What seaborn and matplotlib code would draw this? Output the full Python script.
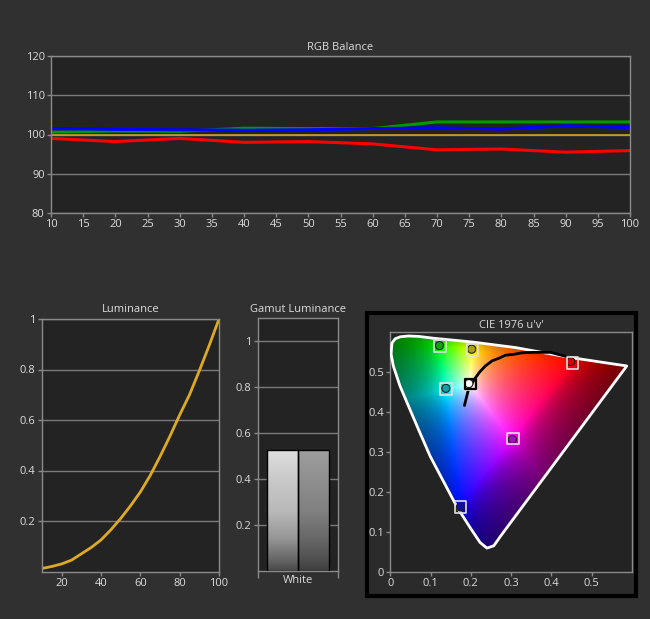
import numpy as np
import pandas as pd
import seaborn as sns
import matplotlib.pyplot as plt
from matplotlib.patches import Polygon, Rectangle
from matplotlib.colors import LinearSegmentedColormap

# ---- data ----
levels = [10, 20, 30, 40, 50, 60, 70, 80, 90, 100]
red_bal = [99.0, 98.2, 99.0, 98.0, 98.2, 97.6, 96.1, 96.3, 95.5, 95.9]
green_bal = [100.6, 100.9, 100.8, 101.6, 101.5, 101.5, 103.2, 103.2, 103.2, 103.2]
blue_bal = [101.5, 101.3, 101.2, 101.1, 101.2, 101.5, 101.7, 101.4, 102.2, 101.8]
target_bal = [100, 100, 100, 100, 100, 100, 100, 100, 100, 100]

lum_x = [10, 15, 20, 25, 30, 35, 40, 45, 50, 55, 60, 65, 70, 75, 80, 85, 90, 95, 100]
lum_y = [0.012, 0.02, 0.03, 0.045, 0.07, 0.095, 0.125, 0.165, 0.21, 0.26, 0.315,
         0.38, 0.455, 0.535, 0.62, 0.70, 0.795, 0.895, 1.0]

gamut_patch = ['White', 'White']
gamut_series = ['Target', 'Measured']
gamut_lum = [0.525, 0.525]

locus_u = [0.240, 0.223, 0.199, 0.165, 0.132, 0.099, 0.070, 0.045, 0.024, 0.0075,
           0.002, 0.004, 0.012, 0.025, 0.045, 0.070, 0.111, 0.203, 0.311, 0.448,
           0.587, 0.273, 0.257]
locus_v = [0.059, 0.073, 0.109, 0.163, 0.226, 0.289, 0.356, 0.415, 0.465, 0.515,
           0.545, 0.572, 0.583, 0.588, 0.590, 0.589, 0.584, 0.575, 0.561, 0.536,
           0.515, 0.088, 0.065]

planck_u = [0.184, 0.194, 0.209, 0.222, 0.236, 0.253, 0.269, 0.286, 0.306, 0.327,
            0.356, 0.398, 0.443]
planck_v = [0.416, 0.456, 0.482, 0.500, 0.515, 0.528, 0.534, 0.542, 0.544, 0.548,
            0.549, 0.549, 0.537]

points = ['Red', 'Green', 'Blue', 'Cyan', 'Magenta', 'Yellow', 'White']
target_u = [0.452, 0.124, 0.174, 0.139, 0.305, 0.204, 0.199]
target_v = [0.523, 0.565, 0.162, 0.457, 0.333, 0.555, 0.469]
meas_u = [0.448, 0.122, 0.174, 0.138, 0.303, 0.202, 0.195]
meas_v = [0.526, 0.566, 0.162, 0.459, 0.331, 0.557, 0.471]
point_colors = {'Red': '#d0000c', 'Green': '#12a012', 'Blue': '#10109a', 'Cyan': '#10a0a8',
                'Magenta': '#a010b8', 'Yellow': '#aaa212', 'White': '#ffffff'}

# ---- style ----
sns.set_theme(style='ticks')
plt.rcParams['font.family'] = ['Open Sans', 'DejaVu Sans']
BG = '#303030'
FACE = '#232323'
SPINE = '#8a8a8a'
TXT = '#dcdcdc'
GRID = '#7a7a7a'

W, H = 650, 619
fig = plt.figure(figsize=(6.5, 6.19), dpi=100, facecolor=BG)


def px_axes(l, t, r, b):
    return fig.add_axes([l / W, 1 - b / H, (r - l) / W, (b - t) / H])


def style(ax):
    ax.set_facecolor(FACE)
    for s in ax.spines.values():
        s.set_visible(True)
        s.set_color(SPINE)
        s.set_linewidth(1)
    ax.tick_params(colors=SPINE, labelcolor=TXT, labelsize=8, length=3, width=1,
                   direction='out', pad=1.5)
    ax.set_xlabel('')
    ax.set_ylabel('')


def title(x, y, s):
    fig.text(x / W, 1 - y / H, s, color=TXT, fontsize=8, ha='center', va='center')


# ---- RGB Balance ----
ax1 = px_axes(51, 56, 630, 213)
ax1.yaxis.grid(True, color=GRID, lw=1)
ax1.set_axisbelow(True)
for vals, col, lw in [(target_bal, '#c8a028', 1.2), (red_bal, '#ff0000', 2.2),
                      (green_bal, '#009a00', 2.2), (blue_bal, '#0000ff', 2.2)]:
    sns.lineplot(x=levels, y=vals, color=col, lw=lw, ax=ax1)
ax1.set_xlim(10, 100)
ax1.set_ylim(80, 120)
ax1.set_xticks(range(10, 101, 5))
ax1.set_yticks([80, 90, 100, 110, 120])
style(ax1)
title(340.5, 47, 'RGB Balance')

# ---- Luminance ----
ax2 = px_axes(42, 319, 219, 571.5)
ax2.yaxis.grid(True, color=GRID, lw=1)
ax2.set_axisbelow(True)
sns.lineplot(x=lum_x, y=lum_y, color='#deaa22', lw=2, ax=ax2)
ax2.set_xlim(10, 100)
ax2.set_ylim(0, 1)
ax2.set_xticks([20, 40, 60, 80, 100])
ax2.set_yticks([0.2, 0.4, 0.6, 0.8, 1.0])
ax2.set_yticklabels(['0.2', '0.4', '0.6', '0.8', '1'])
style(ax2)
title(130.5, 310, 'Luminance')

# ---- Gamut Luminance ----
ax3 = px_axes(258, 318, 338, 571)
ax3.yaxis.grid(True, color=GRID, lw=1)
ax3.set_axisbelow(True)
gdf = pd.DataFrame({'patch': gamut_patch, 'series': gamut_series, 'lum': gamut_lum})
sns.barplot(data=gdf, x='patch', y='lum', hue='series', width=0.78, dodge=True,
            palette=['#c0c0c0', '#808080'], edgecolor='black', linewidth=1,
            legend=False, ax=ax3)
cmaps = [LinearSegmentedColormap.from_list('g1', [(0, '#484848'), (0.07, '#606060'),
                                                  (0.27, '#969696'), (0.49, '#b8b8b8'),
                                                  (0.77, '#cacaca'), (1, '#dedede')]),
         LinearSegmentedColormap.from_list('g2', [(0, '#3c3c3c'), (0.07, '#4c4c4c'),
                                                  (0.27, '#686868'), (0.49, '#808080'),
                                                  (0.77, '#909090'), (1, '#9e9e9e')])]
grad = np.linspace(0, 1, 256).reshape(-1, 1)
for bar, cm in zip(ax3.patches, cmaps):
    x0, y0 = bar.get_x(), bar.get_y()
    im = ax3.imshow(grad, cmap=cm, origin='lower', aspect='auto',
                    extent=[x0, x0 + bar.get_width(), y0, y0 + bar.get_height()], zorder=2)
    im.set_clip_path(bar)
    bar.set_facecolor('none')
    bar.set_zorder(3)
ax3.set_xlim(-0.5, 0.5)
ax3.set_ylim(0, 1.1)
ax3.set_yticks([0.2, 0.4, 0.6, 0.8, 1.0])
ax3.set_yticklabels(['0.2', '0.4', '0.6', '0.8', '1'])
ax3.set_xticks([-0.5, 0.5])
ax3.set_xticklabels(['', ''])
ax3.set_xticks([0], minor=True)
ax3.set_xticklabels(['White'], minor=True)
style(ax3)
ax3.tick_params(axis='x', which='major', length=5)
ax3.tick_params(axis='x', which='minor', length=0, labelsize=8, labelcolor=TXT, pad=3)
title(298, 310, 'Gamut Luminance')

# ---- CIE 1976 u'v' ----
fig.add_artist(Rectangle((367 / W, 1 - 596 / H), 269 / W, 283 / H, transform=fig.transFigure,
                         facecolor='#2b2b2b', edgecolor='black', lw=3, zorder=-1))
ax4 = px_axes(390.3, 332, 632, 571.7)

# chromaticity background colour (u'v' -> XYZ -> linear sRGB)
n = 500
uu, vv = np.meshgrid(np.linspace(0.0, 0.6, n), np.linspace(0.005, 0.6, n))
den = 6 * uu - 16 * vv + 12
cx, cy = 9 * uu / den, 4 * vv / den
xyz = np.stack([cx / cy, np.ones_like(cx), (1 - cx - cy) / cy], axis=-1)
M = np.array([[3.2406, -1.5372, -0.4986], [-0.9689, 1.8758, 0.0415], [0.0557, -0.2040, 1.0570]])
rgb = np.clip(xyz @ M.T, 0, None)
rgb = rgb / rgb.max(axis=-1, keepdims=True)
# darken outside the display triangle
Tm = np.array([[target_u[0] - target_u[2], target_u[1] - target_u[2]],
               [target_v[0] - target_v[2], target_v[1] - target_v[2]]])
Ti = np.linalg.inv(Tm)
du, dv = uu - target_u[2], vv - target_v[2]
l1 = Ti[0, 0] * du + Ti[0, 1] * dv
l2 = Ti[1, 0] * du + Ti[1, 1] * dv
l3 = 1 - l1 - l2
outside = sum(np.clip(-l, 0, None) for l in (l1, l2, l3))
rgb = rgb / (1 + 4.5 * outside)[..., None]
rgb = np.clip(rgb, 0, 1) ** (1 / 1.3)

poly = Polygon(np.column_stack([locus_u, locus_v]), closed=True, facecolor='none',
               edgecolor='white', lw=2, zorder=3, joinstyle='round')
ax4.add_patch(poly)
img = ax4.imshow(rgb, origin='lower', extent=[0, 0.6, 0.005, 0.6], aspect='auto',
                 interpolation='bilinear', zorder=1)
img.set_clip_path(poly)
sns.lineplot(x=planck_u, y=planck_v, color='black', lw=2, sort=False, ax=ax4, zorder=4)
tdf = pd.DataFrame({'u': target_u, 'v': target_v, 'name': points})
mdf = pd.DataFrame({'u': meas_u, 'v': meas_v, 'name': points})
sns.scatterplot(data=mdf, x='u', y='v', hue='name', palette=point_colors, s=34,
                edgecolor='#202020', linewidth=0.8, legend=False, ax=ax4, zorder=5)
sns.scatterplot(data=tdf, x='u', y='v', marker='s', s=70, facecolor='none',
                edgecolor='#e0e0e0', linewidth=1.2, legend=False, ax=ax4, zorder=6)
ax4.scatter([target_u[-1]], [target_v[-1]], marker='s', s=55, facecolor='none',
            edgecolor='black', linewidth=1.6, zorder=7)
ax4.set_xlim(0, 0.6)
ax4.set_ylim(0, 0.6)
ax4.set_xticks([0, 0.1, 0.2, 0.3, 0.4, 0.5])
ax4.set_xticklabels(['0', '0.1', '0.2', '0.3', '0.4', '0.5'])
ax4.set_yticks([0, 0.1, 0.2, 0.3, 0.4, 0.5])
ax4.set_yticklabels(['0', '0.1', '0.2', '0.3', '0.4', '0.5'])
style(ax4)
title(511, 325, "CIE 1976 u'v'")

fig.savefig('out.png', dpi=100, facecolor=BG)
